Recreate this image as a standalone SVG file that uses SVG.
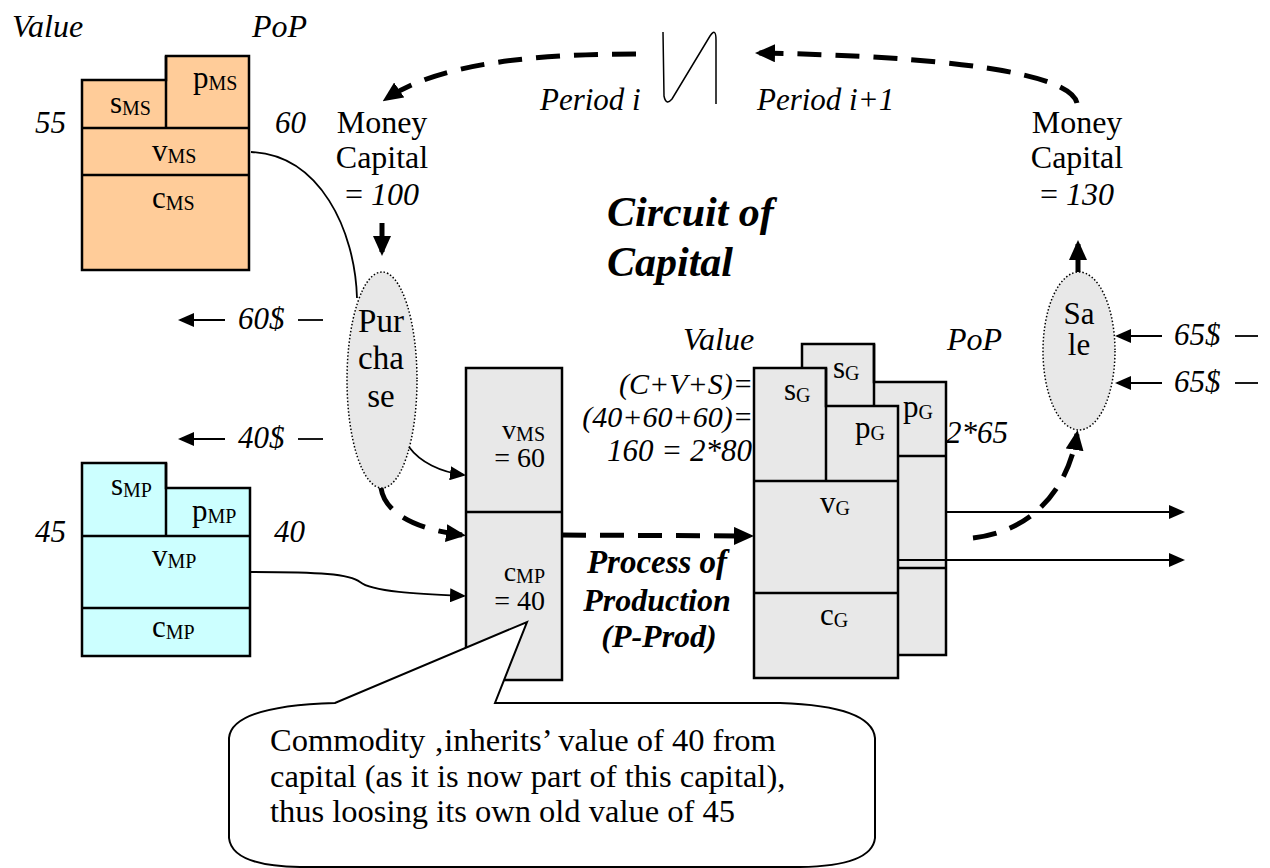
<svg xmlns="http://www.w3.org/2000/svg" width="1270" height="868" viewBox="0 0 1270 868" font-family="'Liberation Serif', 'Times New Roman', serif">
  <style>
    text { font-family: "Liberation Serif", "Times New Roman", serif; font-size: 31px; fill: #000; }
    .i { font-style: italic; }
    .bi { font-style: italic; font-weight: bold; }
    .sub { font-size: 20px; }
    .mid { text-anchor: middle; }
    .end { text-anchor: end; }
    .big { font-size: 32px; }
    .box { stroke: #000; stroke-width: 2.5; }
    .ms { fill: #FFCC99; }
    .mp { fill: #CCFFFF; }
    .gr { fill: #E8E8E8; }
    .ln { fill: none; stroke: #000; stroke-width: 2.5; }
    .thin { fill: none; stroke: #000; stroke-width: 1.8; }
    .dash { fill: none; stroke: #000; stroke-width: 5; stroke-dasharray: 24 14; }
    .dot { fill: #E8E8E8; stroke: #000; stroke-width: 1.5; stroke-dasharray: 1.5 2; }
    .note { font-size: 32.5px; }
  </style>
  <defs>
    <marker id="ah" markerUnits="userSpaceOnUse" markerWidth="16" markerHeight="14" refX="14" refY="7" orient="auto">
      <path d="M0,0 L16,7 L0,14 z" fill="#000"/>
    </marker>
    <marker id="ahb" markerUnits="userSpaceOnUse" markerWidth="20" markerHeight="18" refX="16" refY="9" orient="auto">
      <path d="M0,0 L20,9 L0,18 z" fill="#000"/>
    </marker>
  </defs>

  <!-- heading -->
  <text class="bi" x="607" y="226" style="font-size:42px">Circuit of</text>
  <text class="bi" x="607" y="276" style="font-size:42px">Capital</text>

  <!-- means of subsistence -->
  <g id="ms-block">
    <text class="i big" x="12" y="37">Value</text>
    <text class="i big" x="252" y="37">PoP</text>
    <text class="i" x="35" y="133">55</text>
    <text class="i" x="275" y="133">60</text>
    <path class="box ms" d="M82,80 H166 V56 H249 V270 H82 Z"/>
    <path class="ln" d="M166,56 V128 M82,128 H249 M82,175 H249"/>
    <text x="110" y="113">s<tspan class="sub" dy="2">MS</tspan></text>
    <text x="193" y="88">p<tspan class="sub" dy="2">MS</tspan></text>
    <text x="152" y="161">v<tspan class="sub" dy="2">MS</tspan></text>
    <text x="152" y="208">c<tspan class="sub" dy="2">MS</tspan></text>
  </g>

  <!-- means of production -->
  <g id="mp-block">
    <text class="i" x="35" y="542">45</text>
    <text class="i" x="274" y="542">40</text>
    <path class="box mp" d="M82,463 H166 V488 H250 V656 H82 Z"/>
    <path class="ln" d="M166,463 V536 M82,536 H250 M82,608 H250"/>
    <text x="111" y="495">s<tspan class="sub" dy="2">MP</tspan></text>
    <text x="192" y="521">p<tspan class="sub" dy="2">MP</tspan></text>
    <text x="152" y="566">v<tspan class="sub" dy="2">MP</tspan></text>
    <text x="152" y="637">c<tspan class="sub" dy="2">MP</tspan></text>
  </g>

  <!-- money capital, period i -->
  <g id="money-left">
    <text class="mid big" x="382" y="133">Money</text>
    <text class="mid big" x="382" y="168">Capital</text>
    <text class="mid big" x="382" y="205">= <tspan class="i">100</tspan></text>
  </g>

  <!-- money capital, period i+1 -->
  <g id="money-right">
    <text class="mid big" x="1077" y="133">Money</text>
    <text class="mid big" x="1077" y="168">Capital</text>
    <text class="mid big" x="1077" y="205">= <tspan class="i">130</tspan></text>
  </g>

  <!-- period break -->
  <g id="period-break">
    <text class="i" x="540" y="110">Period i</text>
    <text class="i" x="757" y="110">Period i+1</text>
    <path class="thin" style="stroke-width:1.5" d="M663,32 L664,96 Q666,106 672,99 L710,36 Q716,27 716,40 L716,104"/>
  </g>

  <!-- purchase -->
  <g id="purchase">
    <ellipse class="dot" cx="382" cy="380" rx="35" ry="108"/>
    <text class="mid" x="381" y="332" style="font-size:33px">Pur</text>
    <text class="mid" x="381" y="369" style="font-size:33px">cha</text>
    <text class="mid" x="381" y="407" style="font-size:33px">se</text>
  </g>

  <!-- sale -->
  <g id="sale">
    <ellipse class="dot" cx="1079" cy="351" rx="36" ry="79"/>
    <text class="mid" x="1079" y="324">Sa</text>
    <text class="mid" x="1079" y="355">le</text>
  </g>

  <!-- productive capital -->
  <g id="prod-capital">
    <rect class="box gr" x="466" y="368" width="96" height="312"/>
    <path class="ln" d="M466,512 H562"/>
    <text class="end" x="545" y="439" style="font-size:28px">v<tspan class="sub" dy="2">MS</tspan></text>
    <text class="end" x="545" y="467" style="font-size:28px">= 60</text>
    <text class="end" x="545" y="581" style="font-size:28px">c<tspan class="sub" dy="2">MP</tspan></text>
    <text class="end" x="545" y="610" style="font-size:28px">= 40</text>
  </g>

  <!-- process label -->
  <g id="process">
    <text class="bi mid" x="657" y="573" style="font-size:33px">Process of</text>
    <text class="bi mid" x="657" y="611" style="font-size:32px">Production</text>
    <text class="bi mid" x="659" y="647" style="font-size:32px">(P-Prod)</text>
  </g>

  <!-- commodities produced -->
  <g id="goods">
    <text class="i big" x="683" y="350">Value</text>
    <text class="i big" x="947" y="350">PoP</text>
    <text class="i end" x="753" y="394" style="font-size:30px">(C+V+S)=</text>
    <text class="i end" x="753" y="427" style="font-size:30px">(40+60+60)=</text>
    <text class="i" x="607" y="461">160 = 2*80</text>
    <text class="i" x="946" y="443">2*65</text>
    <!-- back copy -->
    <path class="box gr" d="M802,344 H874 V382 H946 V655 H802 Z"/>
    <path class="ln" d="M874,344 V456 M802,456 H946 M802,568 H946"/>
    <text x="833" y="378">s<tspan class="sub" dy="2">G</tspan></text>
    <text x="903" y="417">p<tspan class="sub" dy="2">G</tspan></text>
    <!-- front copy -->
    <path class="box gr" d="M754,368 H826 V406 H898 V678 H754 Z"/>
    <path class="ln" d="M826,368 V481 M754,481 H898 M754,593 H898"/>
    <text x="784" y="400">s<tspan class="sub" dy="2">G</tspan></text>
    <text x="855" y="438">p<tspan class="sub" dy="2">G</tspan></text>
    <text x="820" y="513">v<tspan class="sub" dy="2">G</tspan></text>
    <text x="820" y="625">c<tspan class="sub" dy="2">G</tspan></text>
  </g>

  <!-- payment labels -->
  <g id="payments">
    <text class="i" x="238" y="329">60$</text>
    <text class="i" x="238" y="448">40$</text>
    <text class="i" x="1174" y="345">65$</text>
    <text class="i" x="1174" y="392">65$</text>
  </g>

  <!-- callout -->
  <g id="callout">
    <path d="M229,738 Q232,706 335,703 L527,622 L495,703 L780,703 Q872,706 875,738 L875,838 Q872,866 800,867 L300,867 Q232,866 229,838 Z" fill="#fff" stroke="#000" stroke-width="2"/>
    <text class="note" x="270" y="751">Commodity ‚inherits’ value of 40 from</text>
    <text class="note" x="270" y="787">capital (as it is now part of this capital),</text>
    <text class="note" x="270" y="822">thus loosing its own old value of 45</text>
  </g>

  <!-- connectors -->
  <g id="connectors">
    <!-- circuit of money -->
    <path class="dash" d="M636,54 C540,54 440,62 386,99" marker-end="url(#ahb)"/>
    <path class="dash" d="M1077,103 C1070,72 940,56 759,53" marker-end="url(#ahb)"/>
    <path class="ln" style="stroke-width:5" d="M382,223 V252" marker-end="url(#ahb)"/>
    <path class="ln" style="stroke-width:5" d="M1078,272 V244" marker-end="url(#ahb)"/>
    <!-- purchase to production -->
    <path class="thin" d="M251,152 C320,155 355,230 357,298"/>
    <path class="thin" d="M409,447 C420,462 440,472 464,475" marker-end="url(#ah)"/>
    <path class="dash" d="M381,488 C385,515 420,530 462,535" marker-end="url(#ahb)"/>
    <path class="thin" d="M250,572 C320,572 350,574 360,582 C372,592 420,594 464,596" marker-end="url(#ah)"/>
    <!-- production -->
    <path class="dash" d="M562,535 L750,536" marker-end="url(#ahb)"/>
    <!-- goods to sale -->
    <path class="dash" d="M973,538 C1040,530 1070,480 1077,434" marker-end="url(#ahb)"/>
    <path class="thin" d="M946,512 H1183" marker-end="url(#ah)"/>
    <path class="thin" d="M898,560 H1183" marker-end="url(#ah)"/>
    <!-- payments -->
    <path class="thin" d="M225,320 H180" marker-end="url(#ah)"/>
    <path class="thin" d="M298,320 H323"/>
    <path class="thin" d="M225,439 H180" marker-end="url(#ah)"/>
    <path class="thin" d="M298,439 H323"/>
    <path class="thin" d="M1162,336 H1117" marker-end="url(#ah)"/>
    <path class="thin" d="M1235,336 H1258"/>
    <path class="thin" d="M1162,383 H1117" marker-end="url(#ah)"/>
    <path class="thin" d="M1235,383 H1258"/>
  </g>
</svg>
